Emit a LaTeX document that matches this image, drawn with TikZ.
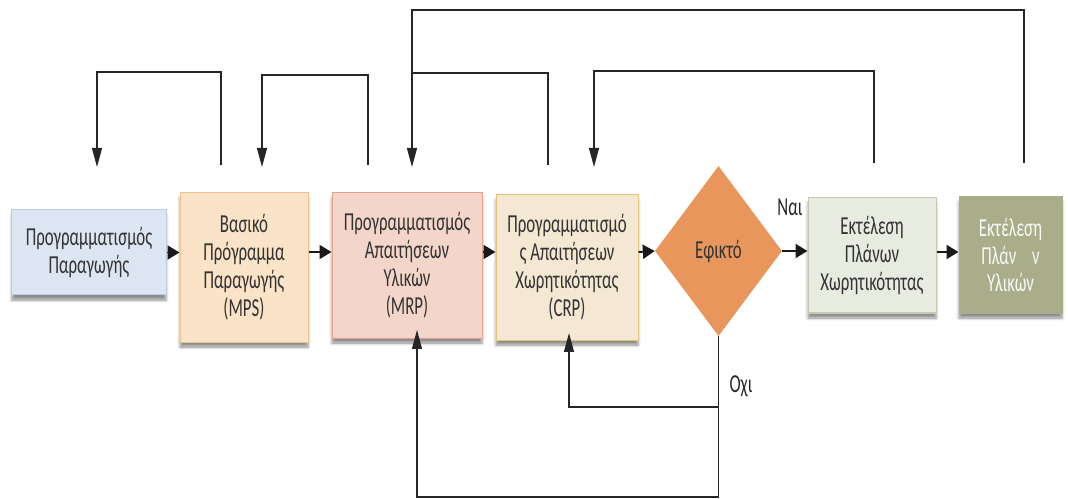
\documentclass[tikz,border=0pt]{standalone}
\usepackage{fontspec}
\setmainfont[FakeStretch=0.65]{Carlito}
\usetikzlibrary{arrows.meta,shapes.geometric,shadows.blur}

\definecolor{blueFill}{HTML}{DCE6F2}\definecolor{blueLine}{HTML}{B8CCE4}
\definecolor{peachFill}{HTML}{FAE3C6}\definecolor{peachLine}{HTML}{EEC48E}
\definecolor{roseFill}{HTML}{F4D5CA}\definecolor{roseLine}{HTML}{E4A08A}
\definecolor{sandFill}{HTML}{F4E8D2}\definecolor{sandLine}{HTML}{E2C47E}
\definecolor{orangeFill}{HTML}{E8965C}
\definecolor{sageFill}{HTML}{E7EBE0}\definecolor{sageLine}{HTML}{C2CAB2}
\definecolor{oliveFill}{HTML}{A9AD8A}

\begin{document}
\begin{tikzpicture}[x=1bp,y=-1bp,
  every node/.style={font=\fontsize{26}{28}\selectfont, text=black!80, align=center},
  box/.style={draw, line width=1bp, inner sep=0pt,
    blur shadow={shadow xshift=0bp, shadow yshift=-5bp, shadow blur radius=3bp, shadow opacity=45}},
  link/.style={line width=1.2bp, draw=black!85},
  flow/.style={line width=1.9bp, draw=black!90, -{Triangle[length=12bp,width=14bp]}},
  uparr/.style={link, -{Triangle[length=19bp,width=10bp]}},
  lbl/.style={font=\fontsize{26}{28}\selectfont, text=black!85},
]
\useasboundingbox (0,0) rectangle (1068,499);

% process blocks
\node[box, fill=blueFill, draw=blueLine, minimum width=154bp, minimum height=85bp]
  (plan) at (89,252.5) {Προγραμματισμός\\Παραγωγής};
\node[box, fill=peachFill, draw=peachLine, minimum width=128bp, minimum height=149bp]
  (mps) at (244,267.5) {Βασικό\\Πρόγραμμα\\Παραγωγής\\(MPS)};
\node[box, fill=roseFill, draw=roseLine, minimum width=150bp, minimum height=145bp]
  (mrp) at (407,265.5) {Προγραμματισμός\\Απαιτήσεων\\Υλικών\\(MRP)};
\node[box, fill=sandFill, draw=sandLine, minimum width=142bp, minimum height=145bp]
  (crp) at (567,267.5) {Προγραμματισμό\\ς Απαιτήσεων\\Χωρητικότητας\\(CRP)};
\node[diamond, fill=orangeFill, minimum width=127bp, minimum height=170bp, inner sep=0pt]
  (feas) at (718.5,251) {Εφικτό};
\node[box, fill=sageFill, draw=sageLine, minimum width=128bp, minimum height=115bp]
  (execc) at (872,255.5) {Εκτέλεση\\Πλάνων\\Χωρητικότητας};
\node[box, fill=oliveFill, draw=oliveFill, minimum width=103bp, minimum height=116bp, text=white!92!oliveFill]
  (execm) at (1010.5,255) {Εκτέλεση\\Πλάν\hspace{0.6em}ν\\Υλικών};

% main flow
\coordinate (row) at (0,252);
\draw[flow] (plan.east) -- (plan.east -| mps.west);
\draw[flow] (mps.east |- row) -- (mrp.west |- row);
\draw[flow] (mrp.east |- row) -- (crp.west |- row);
\draw[flow] (crp.east |- row) -- (feas.west);
\draw[flow] (feas.east) -- (execc.west |- feas.east);
\draw[flow] (execc.east |- row) -- (execm.west |- row);

\node[lbl] (yes) at (790,207) {Ναι};
\node[lbl] (no) at (741,386) {Οχι};

% feedback loops above the blocks
\coordinate (l1s) at (221,165); \coordinate (l1e) at (97,167);
\draw[uparr] (l1s) |- (97,72) -- (l1e);
\coordinate (l2s) at (368,165); \coordinate (l2e) at (262,167);
\draw[uparr] (l2s) |- (262,75) -- (l2e);
\coordinate (l3s) at (548,165); \coordinate (l3e) at (412,167);
\coordinate (l5s) at (1024,163);
\draw[link] (l5s) |- (412,10) -- (412,73);
\draw[uparr] (l3s) |- (412,73) -- (l3e);
\coordinate (l4s) at (874,163); \coordinate (l4e) at (594,167);
\draw[uparr] (l4s) |- (594,71) -- (l4e);

% "no" branch back to CRP and MRP
\coordinate (crpin) at (569,333);
\coordinate (mrpin) at (417,330);
\draw[uparr] (feas.south) |- (600,407) -| (crpin);
\draw[uparr] (feas.south) |- (500,497) -| (mrpin);
\end{tikzpicture}
\end{document}
